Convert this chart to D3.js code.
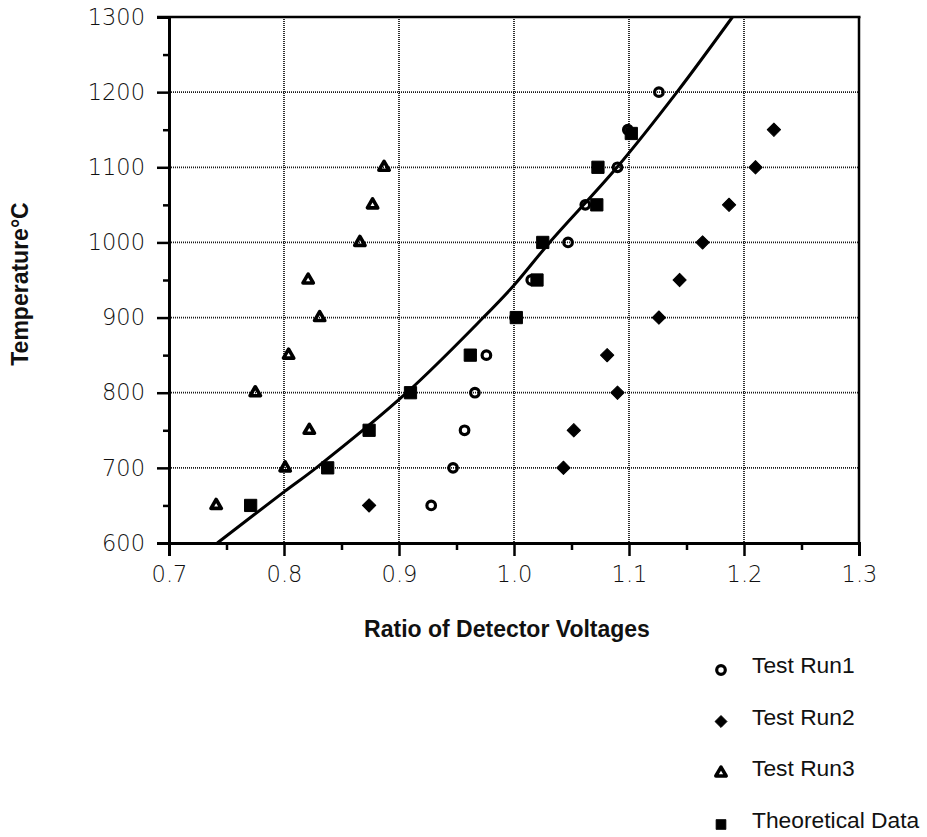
<!DOCTYPE html>
<html>
<head>
<meta charset="utf-8">
<script src="https://cdn.jsdelivr.net/npm/d3@7"></script>
<style>
  html, body { margin: 0; padding: 0; background: #fff; }
  svg { display: block; }
  .tick-label { font-family: "DejaVu Sans", sans-serif; font-weight: 200; font-size: 22.5px; fill: #111; }
  .title { font-family: "Liberation Sans", Arial, sans-serif; font-weight: bold; font-size: 23px; fill: #111; }
  .legend-text { font-family: "Liberation Sans", Arial, sans-serif; font-size: 22.8px; fill: #111; }
</style>
</head>
<body>
<script>
// Axis ticks
const xTicks = [0.7, 0.8, 0.9, 1.0, 1.1, 1.2, 1.3];
const xMinor = [0.75, 0.85, 0.95, 1.05, 1.15, 1.25];
const yTicks = [600, 700, 800, 900, 1000, 1100, 1200, 1300];
const yMinor = [650, 750, 850, 950, 1050, 1150, 1250];

// Test Run1 (open circles)
const run1X = [0.928, 0.947, 0.957, 0.966, 0.976, 1.001, 1.015, 1.047, 1.062, 1.090, 1.099, 1.126];
const run1Y = [650, 700, 750, 800, 850, 900, 950, 1000, 1050, 1100, 1150, 1200];

// Test Run2 (filled diamonds)
const run2X = [0.874, 1.043, 1.052, 1.090, 1.081, 1.126, 1.144, 1.164, 1.187, 1.210, 1.226];
const run2Y = [650, 700, 750, 800, 850, 900, 950, 1000, 1050, 1100, 1150];

// Test Run3 (open triangles)
const run3X = [0.741, 0.801, 0.822, 0.775, 0.804, 0.831, 0.821, 0.866, 0.877, 0.887];
const run3Y = [650, 700, 750, 800, 850, 900, 950, 1000, 1050, 1100];

// Theoretical data (filled squares)
const theoX = [0.771, 0.838, 0.874, 0.910, 0.962, 1.002, 1.020, 1.025, 1.072, 1.073, 1.102];
const theoY = [650, 700, 750, 800, 850, 900, 950, 1000, 1050, 1100, 1145];

// Fitted calibration curve
const curveX = [0.742, 0.800, 0.828, 0.9067, 0.9733, 1.000, 1.031, 1.0896, 1.1417, 1.190];
const curveY = [600, 668, 700, 800, 900, 943, 1000, 1100, 1200, 1300];

const W = 927, H = 837;
const plotL = 169, plotR = 859, plotT = 17, plotB = 543;

const svg = d3.select("body").append("svg").attr("width", W).attr("height", H);

const x = d3.scaleLinear().domain([0.7, 1.3]).range([plotL, plotR]);
const y = d3.scaleLinear().domain([600, 1300]).range([plotB, plotT]);

// Dotted grid
const grid = svg.append("g")
  .attr("stroke", "#1a1a1a").attr("stroke-width", 1.8).attr("stroke-dasharray", "1,1");
grid.selectAll("line.gx").data(xTicks.slice(1, -1)).join("line")
  .attr("x1", d => x(d)).attr("x2", d => x(d)).attr("y1", plotT).attr("y2", plotB);
grid.selectAll("line.gy").data(yTicks.slice(1, -1)).join("line")
  .attr("x1", plotL).attr("x2", plotR).attr("y1", d => y(d)).attr("y2", d => y(d));

// Left axis
const yAxis = d3.axisLeft(y).tickValues(yTicks).tickSize(12).tickPadding(12).tickFormat(d3.format("d"));
const gy = svg.append("g").attr("transform", `translate(${plotL},0)`).call(yAxis);
gy.select(".domain").attr("stroke", "#000").attr("stroke-width", 3);
gy.selectAll(".tick line").attr("stroke", "#000").attr("stroke-width", 2.5);
gy.selectAll(".tick text").attr("class", "tick-label");
gy.attr("font-size", null).attr("font-family", null);
svg.append("g").attr("transform", `translate(${plotL},0)`)
  .call(d3.axisLeft(y).tickValues(yMinor).tickSize(6).tickFormat(""))
  .call(g => g.select(".domain").remove())
  .selectAll(".tick line").attr("stroke", "#000").attr("stroke-width", 2.5);

// Bottom axis
const xAxis = d3.axisBottom(x).tickValues(xTicks).tickSize(13).tickPadding(10).tickFormat(d3.format(".1f"));
const gx = svg.append("g").attr("transform", `translate(0,${plotB})`).call(xAxis);
gx.select(".domain").attr("stroke", "#000").attr("stroke-width", 3);
gx.selectAll(".tick line").attr("stroke", "#000").attr("stroke-width", 2.5);
gx.selectAll(".tick text").attr("class", "tick-label");
gx.attr("font-size", null).attr("font-family", null);
svg.append("g").attr("transform", `translate(0,${plotB})`)
  .call(d3.axisBottom(x).tickValues(xMinor).tickSize(7).tickFormat(""))
  .call(g => g.select(".domain").remove())
  .selectAll(".tick line").attr("stroke", "#000").attr("stroke-width", 2.5);

// Top and right frame
svg.append("line").attr("x1", plotL - 12).attr("x2", plotR + 1.5).attr("y1", plotT).attr("y2", plotT)
  .attr("stroke", "#000").attr("stroke-width", 2.5);
svg.append("line").attr("x1", plotR).attr("x2", plotR).attr("y1", plotT).attr("y2", plotB)
  .attr("stroke", "#000").attr("stroke-width", 2.5);

// Fitted curve
const line = d3.line().x(d => x(d[0])).y(d => y(d[1])).curve(d3.curveCatmullRom.alpha(0.5));
svg.append("path").datum(d3.zip(curveX, curveY)).attr("d", line)
  .attr("fill", "none").attr("stroke", "#000").attr("stroke-width", 3);

// Marker shapes
const sym = {
  circle: d3.symbol().type(d3.symbolCircle).size(58),
  diamond: d3.symbol().type(d3.symbolSquare).size(88),
  triangle: d3.symbol().type(d3.symbolTriangle).size(46),
  square: d3.symbol().type(d3.symbolSquare).size(150)
};

function styleMarker(sel, kind) {
  if (kind === "circle") sel.attr("fill", "none").attr("stroke", "#000").attr("stroke-width", 3.2);
  else if (kind === "triangle") sel.attr("fill", "none").attr("stroke", "#000").attr("stroke-width", 3.6).attr("stroke-linejoin", "round");
  else sel.attr("fill", "#000").attr("stroke", "#000").attr("stroke-width", 1).attr("stroke-linejoin", "round");
}

function markerTransform(kind) {
  return kind === "diamond" ? " rotate(45)" : "";
}

function drawSeries(xs, ys, kind, g) {
  const pts = d3.zip(xs, ys);
  const sel = g.selectAll("path").data(pts).join("path")
    .attr("transform", d => `translate(${x(d[0])},${y(d[1])})` + markerTransform(kind))
    .attr("d", sym[kind]());
  styleMarker(sel, kind);
}

const marks = svg.append("g");
drawSeries(run3X, run3Y, "triangle", marks.append("g"));
drawSeries(run1X, run1Y, "circle", marks.append("g"));
drawSeries(run2X, run2Y, "diamond", marks.append("g"));
drawSeries(theoX, theoY, "square", marks.append("g"));

// Axis titles
svg.append("text").attr("class", "title")
  .attr("x", 507).attr("y", 637).attr("text-anchor", "middle")
  .text("Ratio of Detector Voltages");
svg.append("text").attr("class", "title")
  .attr("transform", "translate(28,284) rotate(-90)").attr("text-anchor", "middle")
  .text("Temperature°C");

// Legend
const legendItems = [
  { label: "Test Run1", kind: "circle" },
  { label: "Test Run2", kind: "diamond" },
  { label: "Test Run3", kind: "triangle" },
  { label: "Theoretical Data", kind: "square" }
];
const legend = svg.append("g").attr("transform", "translate(721,673)");
legendItems.forEach((it, i) => {
  const row = legend.append("g").attr("transform", `translate(0,${i * 51.5})`);
  const s = it.kind === "square" ? " scale(0.8)" : (it.kind === "diamond" ? " scale(0.9)" : "");
  const m = row.append("path").attr("d", sym[it.kind]())
    .attr("transform", "translate(0,-3)" + s + markerTransform(it.kind));
  styleMarker(m, it.kind);
  row.append("text").attr("class", "legend-text").attr("x", 31).attr("y", 0).text(it.label);
});
</script>
</body>
</html>
